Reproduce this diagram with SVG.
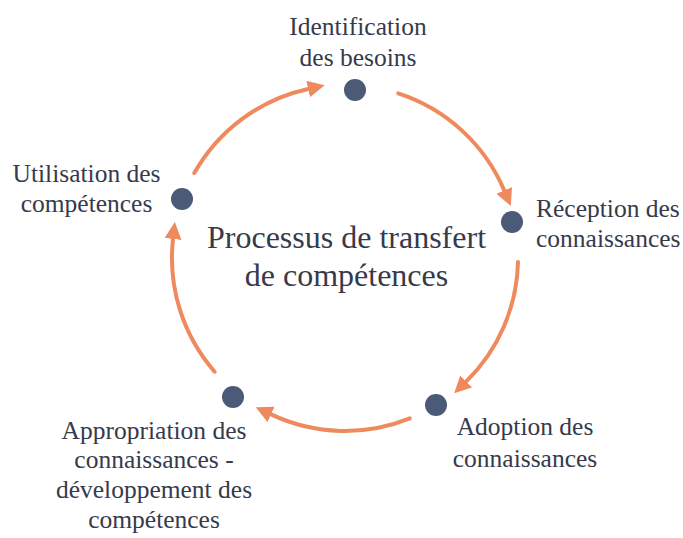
<svg xmlns="http://www.w3.org/2000/svg" width="683" height="538" viewBox="0 0 683 538">
  <style>
    .lbl { font-family: "Liberation Serif", "Times New Roman", serif; font-size: 25.5px; fill: #363a4b; }
    .title { font-family: "Liberation Serif", "Times New Roman", serif; font-size: 32px; fill: #363a4b; text-anchor: middle; }
    .dot { fill: #4a5a77; }
    .arc { fill: none; stroke: #ee8a5e; stroke-width: 4; stroke-linecap: round; }
  </style>
  <defs>
    <marker id="ah" markerUnits="userSpaceOnUse" markerWidth="20" markerHeight="20" refX="0" refY="8.5" orient="auto">
      <path d="M0,0 L17,8.5 L0,17 Z" fill="#ee8a5e"/>
    </marker>
  </defs>
  <rect width="683" height="538" fill="#ffffff"/>

  <g id="connectors">
    <path class="arc" marker-end="url(#ah)" d="M398.2,93.4 A173,173 0 0 1 504.2,190.4"/>
    <path class="arc" marker-end="url(#ah)" d="M518,261.9 A173,173 0 0 1 466.3,381.4"/>
    <path class="arc" marker-end="url(#ah)" d="M409.8,418.4 A173,173 0 0 1 271.1,414.4"/>
    <path class="arc" marker-end="url(#ah)" d="M214.6,371.7 A173,173 0 0 1 173,239"/>
    <path class="arc" marker-end="url(#ah)" d="M194.3,173.1 A173,173 0 0 1 308.1,89"/>
  </g>

  <g id="center">
    <text class="title" x="346.5" y="248">Processus de transfert</text>
    <text class="title" x="346.5" y="286">de compétences</text>
  </g>

  <g id="node-identification">
    <circle class="dot" cx="355" cy="90" r="11"/>
    <text class="lbl" x="358" y="35" text-anchor="middle">Identification</text>
    <text class="lbl" x="358" y="66" text-anchor="middle">des besoins</text>
  </g>

  <g id="node-reception">
    <circle class="dot" cx="512" cy="222" r="11"/>
    <text class="lbl" x="536" y="217">Réception des</text>
    <text class="lbl" x="536" y="247">connaissances</text>
  </g>

  <g id="node-adoption">
    <circle class="dot" cx="436" cy="405" r="11"/>
    <text class="lbl" x="525" y="435" text-anchor="middle">Adoption des</text>
    <text class="lbl" x="525" y="467" text-anchor="middle">connaissances</text>
  </g>

  <g id="node-appropriation">
    <circle class="dot" cx="233" cy="397" r="11"/>
    <text class="lbl" x="154" y="439" text-anchor="middle">Appropriation des</text>
    <text class="lbl" x="154" y="468" text-anchor="middle">connaissances -</text>
    <text class="lbl" x="154" y="498" text-anchor="middle">développement des</text>
    <text class="lbl" x="154" y="528" text-anchor="middle">compétences</text>
  </g>

  <g id="node-utilisation">
    <circle class="dot" cx="182" cy="199" r="11"/>
    <text class="lbl" x="86.5" y="182" text-anchor="middle">Utilisation des</text>
    <text class="lbl" x="86.5" y="212" text-anchor="middle">compétences</text>
  </g>
</svg>
